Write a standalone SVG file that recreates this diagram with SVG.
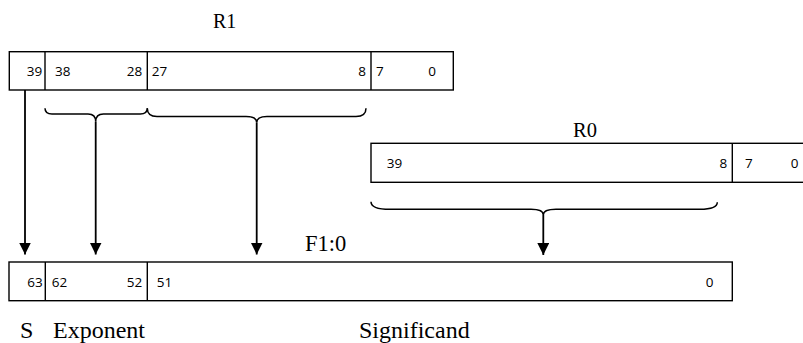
<svg xmlns="http://www.w3.org/2000/svg" width="803" height="343" viewBox="0 0 803 343">
<style>
.box{fill:#fff;stroke:#000;stroke-width:1.4}
.div{stroke:#000;stroke-width:1.4}
.num{font-size:13.5px;fill:#000}
.end{text-anchor:end}
.lbl{fill:#000}
.brace{fill:none;stroke:#000;stroke-width:1.5}
.arr{fill:none;stroke:#000;stroke-width:1.8;marker-end:url(#ah)}
</style>
<defs>
<marker id="ah" markerUnits="userSpaceOnUse" markerWidth="12" markerHeight="12" refX="11" refY="5.5" orient="auto" viewBox="0 0 11 11">
<path d="M0,0 L11,5.5 L0,11 Z" fill="#000"/>
</marker>
</defs>
<g id="R1">
<text class="lbl" font-family="'Liberation Serif', 'Times New Roman', serif" x="213" y="28" font-size="20">R1</text>
<rect class="box" x="9.3" y="51.7" width="444" height="38.3"/>
<line class="div" x1="45" y1="51.7" x2="45" y2="90"/>
<line class="div" x1="147.3" y1="51.7" x2="147.3" y2="90"/>
<line class="div" x1="371" y1="51.7" x2="371" y2="90"/>
<g font-family="'Open Sans', 'Liberation Sans', sans-serif">
<text class="num end" x="42.3" y="76">39</text>
<text class="num" x="55" y="76">38</text>
<text class="num end" x="142.3" y="76">28</text>
<text class="num" x="151.7" y="76">27</text>
<text class="num end" x="366" y="76">8</text>
<text class="num" x="376" y="76">7</text>
<text class="num" x="428.3" y="76">0</text>
</g>
</g>
<g id="R0">
<text class="lbl" font-family="'Liberation Serif', 'Times New Roman', serif" x="573" y="137" font-size="20.5">R0</text>
<rect class="box" x="371" y="143.3" width="440" height="39"/>
<line class="div" x1="732.3" y1="143.3" x2="732.3" y2="182.3"/>
<g font-family="'Open Sans', 'Liberation Sans', sans-serif">
<text class="num" x="386.7" y="168.3">39</text>
<text class="num end" x="727.3" y="168.3">8</text>
<text class="num" x="745" y="168.3">7</text>
<text class="num" x="790.7" y="168.3">0</text>
</g>
</g>
<g id="F1">
<text class="lbl" font-family="'Liberation Serif', 'Times New Roman', serif" x="305" y="250.5" font-size="22.5">F1:0</text>
<rect class="box" x="9" y="262" width="723.3" height="38.7"/>
<line class="div" x1="45.3" y1="262" x2="45.3" y2="300.7"/>
<line class="div" x1="147.3" y1="262" x2="147.3" y2="300.7"/>
<g font-family="'Open Sans', 'Liberation Sans', sans-serif">
<text class="num end" x="42.7" y="287.3">63</text>
<text class="num" x="51.7" y="287.3">62</text>
<text class="num end" x="142.3" y="287.3">52</text>
<text class="num" x="156.7" y="287.3">51</text>
<text class="num" x="705.7" y="287.3">0</text>
</g>
</g>
<g id="labels" font-family="'Liberation Serif', 'Times New Roman', serif">
<text class="lbl" x="20" y="337.5" font-size="24">S</text>
<text class="lbl" x="53" y="337.5" font-size="24">Exponent</text>
<text class="lbl" x="359" y="337.5" font-size="24">Significand</text>
</g>
<g id="connectors">
<path class="brace" d="M45,108.3 Q45,114 52,114 L88,114 Q95.7,114 95.7,121.7 Q95.7,114 103.4,114 L140.3,114 Q147.3,114 147.3,108.3"/>
<path class="brace" d="M147.3,108.3 Q147.3,116.5 157,116.5 L246,116.5 Q256.7,116.5 256.7,122.7 Q256.7,116.5 267,116.5 L356,116.5 Q366,116.5 366,108.3"/>
<path class="brace" d="M371,201.7 Q371,209.3 390,209.3 L531,209.3 Q543.3,209.3 543.3,215 Q543.3,209.3 556,209.3 L700,209.3 Q717.3,209.3 717.3,202.3"/>
<line class="arr" x1="25" y1="90" x2="25" y2="254.5"/>
<line class="arr" x1="95.7" y1="121.7" x2="95.7" y2="254.5"/>
<line class="arr" x1="256.7" y1="122.7" x2="256.7" y2="254.5"/>
<line class="arr" x1="543.3" y1="215" x2="543.3" y2="255"/>
</g>
</svg>
